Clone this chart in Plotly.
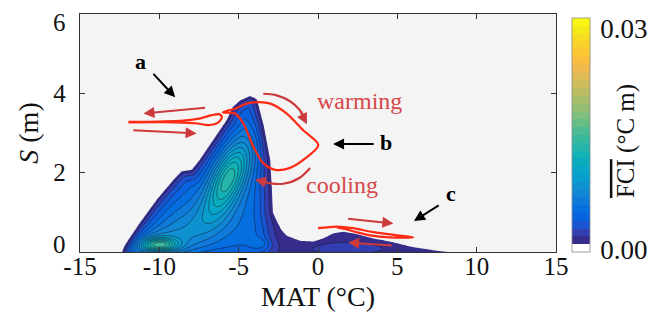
import numpy as np
import plotly.graph_objects as go

# ---------------- data ----------------
# outer edge of the FCI > 0.001 region  (MAT in degC, S in m)
edge_mat = [-12.35, -12.3, -12.15, -11.2, -10.15, -9.1, -8.6, -7.95, -7.45, -6.6, -5.75, -5.35,
            -4.9, -4.28, -3.86, -3.45, -3.02, -2.92, -2.85, -2.6, -2.3, -1.97, -1.13, -0.3,
            0.33, 0.97, 1.6, 2.44, 3.5, 4.75, 6.0, 7.5, 8.7, 8.8]
edge_s = [-0.3, 0.02, 0.15, 0.74, 1.32, 1.82, 2.03, 2.07, 2.32, 2.82, 3.32, 3.66,
          3.82, 3.93, 3.85, 3.2, 2.32, 1.66, 1.0, 0.78, 0.55, 0.41, 0.28, 0.26,
          0.34, 0.47, 0.51, 0.45, 0.34, 0.24, 0.12, 0.03, -0.02, -0.3]

# density body of the cold lobe and local maxima inside the region
body_amp = 0.0038      # FCI rise from the edge into the cold lobe
body_len = 0.9         # distance over which it rises
lobe_edge_mat = -3.1   # the lobe body fades out east of this MAT
blob_mat = [-5.65, -8.0, -10.0, -10.3, -3.6, 1.8]
blob_s = [1.85, 0.6, 0.17, 0.25, 0.2, 0.1]
blob_long = [1.7, 2.0, 0.8, 1.4, 0.45, 2.0]
blob_short = [0.7, 1.0, 0.3, 0.55, 0.25, 0.3]
blob_angle = [65, 25, 0, 5, 0, 0]
blob_amp = [0.0083, 0.0024, 0.0072, 0.0018, 0.0012, 0.0008]

# hysteresis loops (red)
loop_a_mat = [-11.95, -10.0, -8.5, -7.4, -6.7, -6.2, -6.05, -6.3, -6.9, -7.6, -9.0, -11.95]
loop_a_s = [3.28, 3.29, 3.31, 3.37, 3.45, 3.47, 3.40, 3.26, 3.2, 3.24, 3.27, 3.27]
loop_b_mat = [-6.0, -5.2, -4.5, -3.7, -3.0, -1.97, -0.93, 0.02, -0.93, -1.76, -2.7, -3.45, -4.08, -4.7, -5.23, -6.0]
loop_b_s = [3.52, 3.62, 3.74, 3.78, 3.74, 3.49, 3.07, 2.7, 2.32, 2.12, 2.07, 2.24, 2.66, 3.24, 3.49, 3.52]
loop_c_mat = [0.0, 1.2, 2.2, 3.5, 5.0, 6.0, 4.5, 3.3, 2.4, 1.7, 1.2]
loop_c_s = [0.6, 0.64, 0.6, 0.5, 0.42, 0.37, 0.37, 0.42, 0.5, 0.58, 0.62]

# curved guide arrows
warm_mat = [-3.45, -2.6, -1.76, -1.15, -0.85]
warm_s = [3.99, 3.95, 3.8, 3.58, 3.38]
cool_mat = [-0.5, -1.2, -2.2, -3.1, -3.7]
cool_s = [2.12, 1.86, 1.72, 1.74, 1.8]

x_ticks = [-15, -10, -5, 0, 5, 10, 15]
x_ticktext = ["-15", "-10", "-5", "0", "5", "10", "15"]
y_ticks = [0, 2, 4, 6]
y_ticktext = ["", "2", "4", ""]
y_end_labels = ["0", "6"]
cbar_ticktext = ["0.00", "0.03"]

parula = [[0.2081, 0.1663, 0.5292], [0.2081, 0.2386, 0.6771], [0.0591, 0.3598, 0.8683],
          [0.0165, 0.4266, 0.8786], [0.0723, 0.4887, 0.8467], [0.0641, 0.5570, 0.8240],
          [0.0239, 0.6287, 0.8038], [0.0267, 0.6642, 0.7607], [0.0843, 0.6928, 0.7062],
          [0.1801, 0.7177, 0.6424], [0.3022, 0.7376, 0.5712], [0.4420, 0.7481, 0.5033],
          [0.5709, 0.7485, 0.4494], [0.6834, 0.7435, 0.4044], [0.7858, 0.7356, 0.3633],
          [0.8824, 0.7274, 0.3217], [0.9739, 0.7314, 0.2666], [0.9955, 0.7861, 0.1967],
          [0.9697, 0.8481, 0.1475], [0.9598, 0.9218, 0.0948], [0.9763, 0.9831, 0.0538]]

# ---------------- build the field ----------------
VS = 2.5  # visual aspect of S relative to MAT
mat_axis = np.round(np.arange(-13.0, 9.5001, 0.075), 4)
s_axis = np.round(np.arange(0.0, 4.3001, 0.02), 4)
U, S = np.meshgrid(mat_axis, s_axis)
V = S * VS
pu = np.array(edge_mat)
pv = np.array(edge_s) * VS
n = len(pu)
dist = np.full(U.shape, np.inf)
inside = np.zeros(U.shape, dtype=bool)
for i in range(n):
    x1, y1 = pu[i], pv[i]
    x2, y2 = pu[(i + 1) % n], pv[(i + 1) % n]
    dx, dy = x2 - x1, y2 - y1
    t = np.clip(((U - x1) * dx + (V - y1) * dy) / (dx * dx + dy * dy), 0, 1)
    dist = np.minimum(dist, np.hypot(U - (x1 + t * dx), V - (y1 + t * dy)))
    cond = ((y1 > V) != (y2 > V)) & (U < dx * (V - y1) / (dy if dy != 0 else 1e-12) + x1)
    inside ^= cond
sd = np.where(inside, dist, -dist)


def sig(a):
    return 1.0 / (1.0 + np.exp(-a))


blobs = np.zeros(U.shape)
for cx, cs, sl, ss, ang, amp in zip(blob_mat, blob_s, blob_long, blob_short, blob_angle, blob_amp):
    th = np.deg2rad(ang)
    du, dv = U - cx, V - cs * VS
    a = du * np.cos(th) + dv * np.sin(th)
    b = -du * np.sin(th) + dv * np.cos(th)
    blobs += amp * np.exp(-0.5 * (a / sl) ** 2 - 0.5 * (b / ss) ** 2)

body = body_amp * np.tanh(np.clip(sd, 0, None) / body_len) * sig((lobe_edge_mat - U) / 0.3)
z = 0.0004 + 0.0012 * sig(sd / 0.06) + body + blobs * sig((sd - 0.15) / 0.12)
z = np.round(z, 6)

# ---------------- colour scale ----------------
s0 = 1 / 31
cscale = [[0, "rgba(255,255,255,0)"], [0.044, "rgba(255,255,255,0)"]]
for k, c in enumerate(parula):
    p = k / (len(parula) - 1)
    pos = 0.046 if k == 0 else max(0.046, s0 + p * (1 - s0))
    cscale.append([pos, "rgb(%d,%d,%d)" % tuple(int(round(255 * v)) for v in c)])

FONT = "Liberation Serif"
TXT = "#111"
fig = go.Figure()
fig.add_trace(go.Contour(
    x=mat_axis, y=s_axis, z=z, zmin=0, zmax=0.03,
    contours=dict(start=0, end=0.03, size=0.001, coloring="fill"),
    line=dict(width=0), colorscale=cscale, hoverinfo="skip",
    colorbar=dict(thickness=18, len=234, lenmode="pixels", x=1.0336, xanchor="left",
                  y=0.4916, yanchor="middle", xpad=0, ypad=0, outlinewidth=0.8,
                  outlinecolor="#8a8a8a", tickvals=[0.00026, 0.0287],
                  ticktext=cbar_ticktext, ticks="outside", ticklen=5, tickcolor="rgba(0,0,0,0)",
                  tickfont=dict(size=27, color=TXT, family=FONT))))
fig.add_trace(go.Contour(
    x=mat_axis, y=s_axis, z=z, showscale=False,
    contours=dict(start=0.002, end=0.03, size=0.001, coloring="none"),
    line=dict(width=0.6, color="rgba(25,25,35,0.85)"), hoverinfo="skip"))

RED = "#ff2a14"
DRED = "#cc3a3c"
for xs, ys in [(loop_a_mat, loop_a_s), (loop_b_mat, loop_b_s), (loop_c_mat, loop_c_s)]:
    fig.add_trace(go.Scatter(x=xs, y=ys, mode="lines", line=dict(color=RED, width=2.2, shape="spline", smoothing=0.8),
                             hoverinfo="skip", showlegend=False))
for xs, ys in [(warm_mat, warm_s), (cool_mat, cool_s)]:
    fig.add_trace(go.Scatter(x=xs, y=ys, mode="lines", line=dict(color=DRED, width=2.2, shape="spline"),
                             hoverinfo="skip", showlegend=False))

ann = []


def arrow(x, y, ax, ay, color, w=2.0):
    ann.append(dict(x=x, y=y, ax=ax, ay=ay, xref="x", yref="y", axref="x", ayref="y", text="",
                    showarrow=True, arrowhead=2, arrowsize=1.1, arrowwidth=w, arrowcolor=color))


# red straight arrows
arrow(-11.0, 3.49, -7.02, 3.64, DRED)
arrow(-7.65, 2.99, -11.74, 3.07, DRED)
arrow(4.75, 0.72, 1.8, 0.84, DRED)
arrow(1.9, 0.24, 4.75, 0.16, DRED)
# heads of curved arrows
arrow(-0.7, 3.22, warm_mat[-2], warm_s[-2], DRED)
arrow(-3.97, 1.83, cool_mat[-2], cool_s[-2], DRED)
# black pointer arrows
arrow(-9.0, 3.9, -10.46, 4.53, "black", 2.0)
arrow(0.95, 2.72, 3.6, 2.72, "black", 2.0)
arrow(6.05, 0.78, 7.7, 1.2, "black", 2.0)

for t, x, y in [("a", -11.2, 4.8), ("b", 4.3, 2.76), ("c", 8.4, 1.48)]:
    ann.append(dict(x=x, y=y, xref="x", yref="y", text="<b>%s</b>" % t, showarrow=False,
                    font=dict(size=22, color="black", family=FONT)))
for t, x, y in [("warming", 2.6, 3.8), ("cooling", 1.5, 1.7)]:
    ann.append(dict(x=x, y=y, xref="x", yref="y", text=t, showarrow=False,
                    font=dict(size=24, color="#d6474a", family=FONT)))
# y end labels, nudged inward as in the reference
for t, yv, sh in [(y_end_labels[0], 0, 8), (y_end_labels[1], 6, -8)]:
    ann.append(dict(x=0, y=yv, xref="paper", yref="y", xanchor="right", yanchor="middle", xshift=-12,
                    yshift=sh, text=t, showarrow=False, font=dict(size=25, color=TXT, family=FONT)))
ann.append(dict(x=1.147, y=0.466, xref="paper", yref="paper", xanchor="center", yanchor="middle",
                textangle=-90, showarrow=False,
                text='<span style="text-decoration:overline">FCI</span> (°C m)',
                font=dict(size=25, color=TXT, family=FONT)))

axis_common = dict(showline=True, linecolor="#333", linewidth=1.3, mirror="ticks", ticks="inside",
                   ticklen=5, tickcolor="#333", showgrid=False, zeroline=False, automargin=False,
                   tickfont=dict(size=25, color=TXT, family=FONT))
fig.update_layout(
    width=663, height=323, margin=dict(l=80, r=107, t=14, b=71, autoexpand=False),
    paper_bgcolor="white", plot_bgcolor="#f4f4f4", showlegend=False,
    font=dict(family=FONT, color=TXT),
    xaxis=dict(range=[-15, 15], tickvals=x_ticks, ticktext=x_ticktext, ticklabelstandoff=-8,
               title=dict(text="MAT (°C)", font=dict(size=28), standoff=7), **axis_common),
    yaxis=dict(range=[0, 6], tickvals=y_ticks, ticktext=y_ticktext, ticklabelstandoff=8,
               title=dict(text="<i>S</i> (m)", font=dict(size=28), standoff=6), **axis_common),
    annotations=ann)
fig.write_html("out.html", config={"displayModeBar": False, "staticPlot": True},
               post_script="document.body.style.margin='0';")
